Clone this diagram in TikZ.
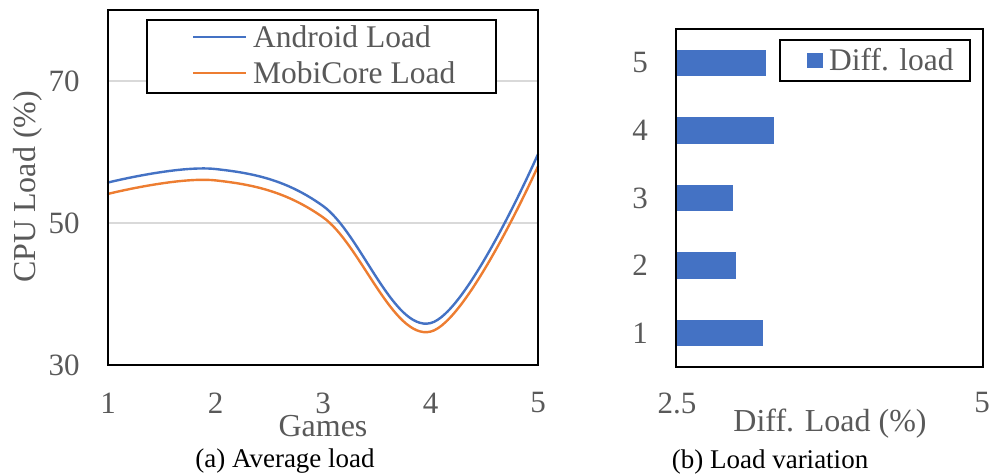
\documentclass[tikz,border=0pt]{standalone}
\usepackage{fontspec}
\setmainfont{Liberation Serif}
\definecolor{andblue}{HTML}{4472C4}
\definecolor{mobiorange}{HTML}{ED7D31}
\definecolor{axisgray}{HTML}{595959}
\definecolor{gridgray}{HTML}{D9D9D9}

\begin{document}
\begin{tikzpicture}[x=1pt, y=1pt,
    ticklabel/.style={text=axisgray, font=\fontsize{31}{31}\selectfont, inner sep=0pt},
    axistitle/.style={text=axisgray, font=\fontsize{32}{32}\selectfont, inner sep=0pt},
    legendtext/.style={text=axisgray, font=\fontsize{31.5}{31.5}\selectfont, inner sep=0pt, anchor=west},
    captiontext/.style={font=\fontsize{27}{27}\selectfont, inner sep=0pt},
    framebox/.style={draw=black, line width=2pt},
    loadline/.style={line width=2.4pt, line cap=round}]
  \useasboundingbox (0,0) rectangle (992,474);
  % (a) average load
  \begin{scope}[x=107.5pt, y=7.1pt, shift={(0.5pt,-104pt)}]
    \draw[gridgray, line width=1.5pt] (1,50) -- (5,50);
    \draw[gridgray, line width=1.5pt] (1,70) -- (5,70);
    \draw[loadline, andblue] plot[smooth, tension=0.62] coordinates {(1,55.7) (2,57.6) (3,52.4) (4,35.9) (5,59.7)};
    \draw[loadline, mobiorange] plot[smooth, tension=0.62] coordinates {(1,54.1) (2,56.0) (3,50.8) (4,34.7) (5,58.0)};
    \draw[framebox] (1,30) rectangle (5,80);
  \end{scope}
  \draw[framebox, fill=white] (147,381) rectangle (496,454);
  \draw[line width=2pt, andblue] (193,437) -- (246,437);
  \draw[line width=2pt, mobiorange] (193,401) -- (246,401);
  \node[legendtext] (andleg) at (253,437) {Android Load};
  \node[legendtext] (mobileg) at (253,401) {MobiCore Load};
  \node[ticklabel] (ya70) at (64,393) {70};
  \node[ticklabel] (ya50) at (64,251) {50};
  \node[ticklabel] (ya30) at (64,109) {30};
  \foreach \g in {1,...,5}
    \node[ticklabel] (xa\g) at ({108+107.5*(\g-1)},71) {\g};
  \node[axistitle] (games) at (323,48) {Games};
  \node[axistitle, rotate=90] (cpuload) at (28,287) {CPU Load (\%)};
  \node[captiontext] (capa) at (285,13) {(a) Average load};
  % (b) load variation
  \begin{scope}[x=122.8pt, y=67.6pt, shift={(369pt,73.2pt)}]
    \foreach \k/\v in {1/3.21, 2/2.99, 3/2.96, 4/3.30, 5/3.23}
      \fill[andblue] (2.5,\k-0.196) rectangle (\v,\k+0.196);
    \draw[framebox] (2.5,0.5) rectangle (5,5.5);
  \end{scope}
  \draw[framebox, fill=white] (780,393) rectangle (970,434);
  \fill[andblue] (807,406) rectangle (823,421);
  \node[legendtext] (diffleg) at (829,414) {Diff. load};
  \foreach \k in {1,...,5}
    \node[ticklabel] (yb\k) at (640,{73.2+67.6*\k}) {\k};
  \node[ticklabel] (xb25) at (677,71) {2.5};
  \node[ticklabel] (xb5) at (982,71) {5};
  \node[axistitle] (diffload) at (830,50) {Diff. Load (\%)};
  \node[captiontext] (capb) at (770,12) {(b) Load variation};
\end{tikzpicture}
\end{document}
